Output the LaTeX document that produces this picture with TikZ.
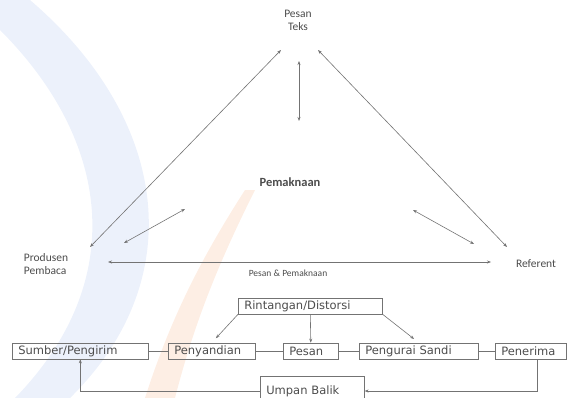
\documentclass[tikz,border=0pt]{standalone}
\usepackage{fontspec}
\setmainfont{Carlito}
\newfontfamily\boxfont{DejaVu Sans}
\usetikzlibrary{arrows.meta}
\definecolor{wmblue}{RGB}{236,241,251}
\definecolor{wmorange}{RGB}{253,238,228}

\begin{document}
\begin{tikzpicture}[
        x=1pt, y=-1pt,
        txt/.style  ={text=black!70, font=\fontsize{11.5}{13}\selectfont, align=center, inner sep=1pt},
        box/.style  ={draw=black!55, line width=0.6pt, anchor=west, align=left, text=black!70,
                      inner xsep=6pt, inner ysep=1pt, minimum height=16pt,
                      font=\boxfont\fontsize{11.5}{13}\selectfont},
        arr/.style  ={-{Stealth[length=4pt,width=3pt]}, draw=black!55, line width=0.6pt},
        both/.style ={{Stealth[length=4pt,width=3pt]}-{Stealth[length=4pt,width=3pt]},
                      draw=black!55, line width=0.6pt},
        link/.style ={draw=black!55, line width=0.6pt},
    ]
    \useasboundingbox (0,0) rectangle (569,398);

    %% faint watermark behind the diagram
    \fill[wmblue] (30,0) .. controls (170,120) and (190,280) .. (70,398)
        -- (15,398) .. controls (130,280) and (110,140) .. (0,30) -- (0,0) -- cycle;
    \fill[wmorange] (255,190) .. controls (220,260) and (195,320) .. (175,398)
        -- (145,398) .. controls (170,320) and (200,260) .. (245,190) -- cycle;

    %% Triangle -- corners
    \node[txt] (teks) at (298,20) {Pesan\\Teks};
    \node[txt, font=\bfseries\fontsize{12.5}{14}\selectfont] (makna) at (290,182) {Pemaknaan};
    \node[txt, align=left] (produsen) at (46,264) {Produsen\\Pembaca};
    \node[txt] (referent) at (536,264) {Referent};
    \node[txt, font=\fontsize{9.5}{11}\selectfont] (pp) at (288,273) {Pesan \& Pemaknaan};

    %% Triangle -- arrow ends
    \coordinate (tL) at (281,50);   \coordinate (bL) at (90,247);
    \coordinate (tR) at (318,50);   \coordinate (bR) at (507,247);
    \coordinate (vT) at (299,61);   \coordinate (vB) at (299,121);
    \coordinate (iL1) at (185,209); \coordinate (iL2) at (124,243);
    \coordinate (iR1) at (413,210); \coordinate (iR2) at (474,244);
    \coordinate (hL) at (108,262);  \coordinate (hR) at (491,262);

    \draw[both] (tL) -- (bL);
    \draw[both] (tR) -- (bR);
    \draw[both] (vT) -- (vB);
    \draw[both] (iL1) -- (iL2);
    \draw[both] (iR1) -- (iR2);
    \draw[both] (hL) -- (hR);

    %% Communication chain
    \node[box, text width=132pt] (rint)   at (238,306) {Rintangan/Distorsi};
    \node[box, text width=124pt] (sumber) at (12,351)  {Sumber/Pengirim};
    \node[box, text width=75pt]  (peny)   at (168,351) {Penyandian};
    \node[box, text width=43pt]  (pesan)  at (283,351) {Pesan};
    \node[box, text width=107pt] (urai)   at (359,351) {Pengurai Sandi};
    \node[box, text width=59pt]  (terima) at (495,351) {Penerima};
    \node[box, text width=92pt, minimum height=30pt] (umpan) at (260,391) {Umpan Balik};

    \draw[link] (sumber) -- (peny);
    \draw[link] (peny) -- (pesan);
    \draw[link] (pesan) -- (urai);
    \draw[link] (urai) -- (terima);

    %% Noise and feedback
    \draw[arr, shorten >=6pt] (rint.south west) -- (peny.north);
    \draw[arr] (rint.south) -- (pesan.north);
    \draw[arr, shorten >=6pt] (rint.south east) -- (urai.north);
    \draw[arr] ([xshift=6pt]terima.south) |- (umpan.east);
    \draw[arr] (umpan.west) -| (sumber.south);

\end{tikzpicture}
\end{document}
